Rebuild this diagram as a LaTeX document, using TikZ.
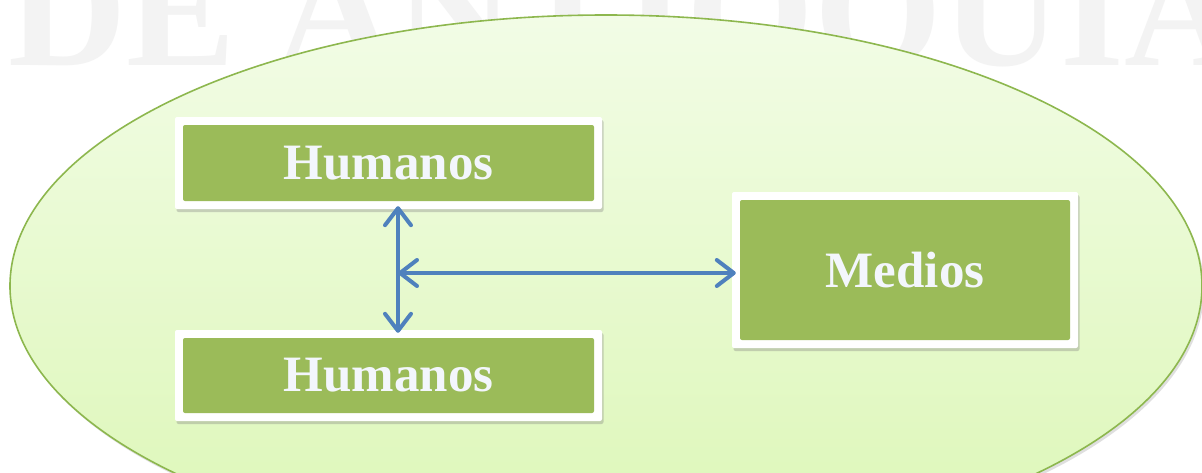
\documentclass[tikz,border=0pt]{standalone}
\usepackage{fontspec}
\setmainfont{Liberation Serif}
\usetikzlibrary{arrows.meta,shadows,calc}
\definecolor{boxgreen}{HTML}{9BBB59}
\definecolor{ellborder}{HTML}{8DB74E}
\definecolor{elltop}{HTML}{F2FCE6}
\definecolor{ellbot}{HTML}{DCF7B6}
\definecolor{arrowblue}{HTML}{4F81BD}
\definecolor{boxtext}{HTML}{F3F6FC}
\definecolor{wmgray}{HTML}{F3F3F3}
\begin{document}
\begin{tikzpicture}[x=1pt,y=-1pt,
  gbox/.style={fill=white, inner sep=0pt, rounded corners=2pt,
    text=boxtext, font=\fontsize{51}{51}\selectfont\bfseries,
    drop shadow={opacity=0.35, shadow xshift=1.5pt, shadow yshift=-3pt},
    path picture={\fill[boxgreen] ([shift={(8pt,8pt)}]path picture bounding box.south west) rectangle ([shift={(-8pt,-8pt)}]path picture bounding box.north east);}},
  link/.style={draw=arrowblue, line width=4pt,
    {Straight Barb[length=17pt, width=26pt, line cap=round, line join=round]}-{Straight Barb[length=17pt, width=26pt, line cap=round, line join=round]}}
]
\useasboundingbox (0,0) rectangle (1202,472);
\fill[white] (0,0) rectangle (1202,472);
\node[anchor=base west, text=wmgray, inner sep=0pt,
  font=\fontsize{164}{164}\selectfont\bfseries] (wm) at (8,65) {DE ANTIOQUIA};
\path[top color=elltop, bottom color=ellbot, draw=ellborder, line width=1.6pt,
  drop shadow={opacity=0.25, shadow xshift=2pt, shadow yshift=-3pt}]
  (606,286) ellipse [x radius=596, y radius=271];
\node[gbox, minimum width=427pt, minimum height=92pt] (h1) at (388.5,163) {Humanos};
\node[gbox, minimum width=427pt, minimum height=91pt] (h2) at (388.5,375.5) {Humanos};
\node[gbox, minimum width=346pt, minimum height=156pt] (m) at (905,270) {Medios};
\coordinate (j) at (398,273);
\draw[link] ([yshift=3pt]j |- h1.south) -- ([yshift=-3pt]j |- h2.north);
\draw[link] (j) -- ([xshift=4pt]j -| m.west);
\end{tikzpicture}
\end{document}
